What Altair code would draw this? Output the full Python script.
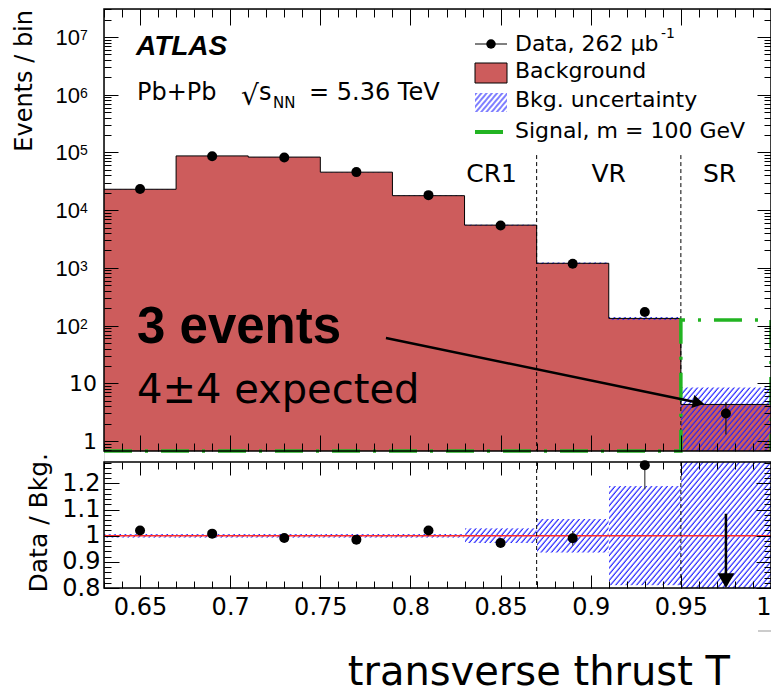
import altair as alt
import pandas as pd
from urllib.parse import quote

# ---------------- data ----------------
bin_lo = [0.63, 0.67, 0.71, 0.75, 0.79, 0.83, 0.87, 0.91, 0.95]
bin_hi = [0.67, 0.71, 0.75, 0.79, 0.83, 0.87, 0.91, 0.95, 1.00]
bin_center = [0.65, 0.69, 0.73, 0.77, 0.81, 0.85, 0.89, 0.93, 0.975]
background = [23000, 87000, 83000, 45500, 17800, 5500, 1200, 133, 4.3]
bkg_unc_up = [23300, 88000, 84000, 46100, 18100, 5650, 1250, 143, 8.5]
bkg_unc_dn = [22700, 86000, 82000, 44900, 17500, 5350, 1150, 124, 0.1]
signal_m100 = [0.05, 0.05, 0.05, 0.05, 0.05, 0.05, 0.05, 0.05, 125]
data_events = [23300, 85900, 81500, 45600, 18200, 5400, 1180, 172, 3]
data_err_dn = [23150, 85600, 81200, 45400, 18070, 5330, 1150, 159, 1.3]
data_err_up = [23450, 86200, 81800, 45800, 18330, 5470, 1210, 185, 4.7]
ratio_value = [1.02, 1.008, 0.991, 0.985, 1.02, 0.972, 0.99, 1.27, 0.70]
ratio_err_dn = [1.01, 1.005, 0.988, 0.980, 1.01, 0.960, 0.962, 1.178, 0.40]
ratio_err_up = [1.03, 1.011, 0.994, 0.990, 1.03, 0.984, 1.018, 1.36, 1.084]
ratio_unc_dn = [0.992, 0.992, 0.992, 0.992, 0.992, 0.972, 0.935, 0.81, 0.02]
ratio_unc_up = [1.008, 1.008, 1.008, 1.008, 1.008, 1.029, 1.065, 1.19, 1.98]

region_names = ["CR1", "VR", "SR"]
region_label_x = [0.845, 0.91, 0.9715]
region_bounds = [0.87, 0.95]
region_line_top = [9e4, 9e4]

arrow_x = [0.7864, 0.9598]
arrow_y = [61, 4.6]

x_major = [0.65, 0.7, 0.75, 0.8, 0.85, 0.9, 0.95, 1.0]
x_minor = [round(0.63 + 0.01 * i, 2) for i in range(38)]
y_top_major = [1, 10, 100, 1000, 10000, 100000, 1000000, 10000000]
y_top_base = ["1", "10", "10", "10", "10", "10", "10", "10"]
y_top_exp = ["", "", "2", "3", "4", "5", "6", "7"]
y_top_minor = [k * 10 ** e for e in range(-1, 8) for k in range(2, 10)
               if 0.671 <= k * 10 ** e <= 3.05e7]
y_rat_major = [0.8, 0.9, 1.0, 1.1, 1.2]
y_rat_minor = [round(0.8 + 0.02 * i, 2) for i in range(25)]

# ---------------- style / layout ----------------
FONT = "DejaVu Sans"
HFONT = "Liberation Sans"
RED = "#cd5c5c"
GREEN = "#22b422"
BLUE = "#2020ff"
W = 667                 # plot width
TOP_H = 442             # main panel: 0 .. 442
R_TOP, R_BOT = 453, 579  # ratio panel rows
H = R_BOT

hatch_svg = ("<svg xmlns='http://www.w3.org/2000/svg' width='100%' height='100%'>"
             "<defs><pattern id='h' patternUnits='userSpaceOnUse' width='4' height='10' "
             "patternTransform='rotate(40)'>"
             "<line x1='1' y1='-1' x2='1' y2='11' stroke='" + BLUE + "' stroke-width='1.15'/>"
             "</pattern></defs><rect width='100%' height='100%' fill='url(#h)'/></svg>")
HATCH = "data:image/svg+xml;charset=utf-8," + quote(hatch_svg)

bins = pd.DataFrame(dict(lo=bin_lo, hi=bin_hi, c=bin_center, bkg=background,
                         up=bkg_unc_up, dn=bkg_unc_dn, rdn=ratio_unc_dn,
                         rup=ratio_unc_up, u=[HATCH] * len(bin_lo)))
pts = pd.DataFrame(dict(c=bin_center, n=data_events, edn=data_err_dn, eup=data_err_up,
                        r=ratio_value, rdn=ratio_err_dn, rup=ratio_err_up))
bkg_step = pd.DataFrame(dict(x=bin_lo + [bin_hi[-1]],
                             v=background + [background[-1]],
                             o=list(range(len(bin_lo) + 1))))
sig_step = pd.DataFrame(dict(x=bin_lo + [bin_hi[-1], bin_hi[-1]],
                             v=signal_m100 + [signal_m100[-1], signal_m100[0]],
                             o=list(range(len(bin_lo) + 2))))
regions = pd.DataFrame(dict(b=region_bounds, t=region_line_top))
rlabels = pd.DataFrame(dict(x=region_label_x, name=region_names))
ann = pd.DataFrame(dict(x1=[arrow_x[0]], x2=[arrow_x[1]], y1=[arrow_y[0]], y2=[arrow_y[1]]))
ylab = pd.DataFrame(dict(v=y_top_major, base=y_top_base, sup=y_top_exp))
one = pd.DataFrame(dict(k=[0], u=[HATCH]))

xs = alt.Scale(domain=[0.63, 1.0], nice=False, zero=False)
ys = alt.Scale(type="log", domain=[0.671, 3.055e7], range=[TOP_H, 0], nice=False, clamp=True)
yr = alt.Scale(domain=[0.8, 1.282], range=[R_BOT, R_TOP], nice=False, zero=False, clamp=True)


def X(f):
    return alt.X(f, scale=xs, axis=None)


def Yt(f):
    return alt.Y(f, scale=ys, axis=None)


def Yr(f):
    return alt.Y(f, scale=yr, axis=None)


def txt(s, x, y, size, font=FONT, weight="normal", style="normal", align="left",
        angle=0, color="black"):
    return alt.Chart(one).mark_text(
        text=s, font=font, fontSize=size, fontWeight=weight, fontStyle=style,
        align=align, baseline="alphabetic", angle=angle, color=color
    ).encode(x=alt.value(x), y=alt.value(y))


def tick_axis(orient, values, size, shift=0, labels=False, pad=0, flush=False):
    kw = dict(orient=orient, values=values, tickSize=size, offset=-(size + shift),
              domain=False, grid=False, labels=labels, ticks=True, tickColor="black",
              tickWidth=1, title=None, zindex=1)
    if labels:
        kw.update(labelFont=FONT, labelFontSize=24, labelColor="black", labelPadding=pad,
                  labelFlush=flush, labelOverlap=False, format="~g")
    return alt.Axis(**kw)


def axis_layer(yscale, ypt, xa, ya):
    df = pd.DataFrame(dict(x=[0.8], y=[ypt]))
    return alt.Chart(df).mark_point(opacity=0).encode(
        x=alt.X("x:Q", scale=xs, axis=xa),
        y=alt.Y("y:Q", scale=yscale, axis=ya))


gap_shift = R_BOT - TOP_H  # distance from chart bottom to main-panel bottom

layers = [
    # ---------- main panel ----------
    alt.Chart(bkg_step).mark_area(interpolate="step-after", color=RED, opacity=1).encode(
        x=X("x:Q"), y=Yt("v:Q"), y2=alt.value(TOP_H)),
    alt.Chart(bins).mark_image(aspect=False).encode(
        x=X("lo:Q"), x2="hi:Q", y=Yt("up:Q"), y2="dn:Q", url="u:N"),
    alt.Chart(bkg_step).mark_line(interpolate="step-after", color="black", strokeWidth=1).encode(
        x=X("x:Q"), y=Yt("v:Q"), order="o:Q"),
    alt.Chart(regions).mark_rule(color="black", strokeWidth=1, strokeDash=[4, 3]).encode(
        x=X("b:Q"), y=Yt("t:Q"), y2=alt.value(TOP_H)),
    alt.Chart(sig_step).mark_line(interpolate="step-after", color=GREEN, strokeWidth=3.5,
                                  strokeDash=[28, 13, 3, 13]).encode(
        x=X("x:Q"), y=Yt("v:Q"), order="o:Q"),
    alt.Chart(pts).mark_rule(color="black", strokeWidth=1).encode(
        x=X("c:Q"), y=Yt("edn:Q"), y2="eup:Q"),
    alt.Chart(pts).mark_circle(size=100, color="black", opacity=1).encode(
        x=X("c:Q"), y=Yt("n:Q")),
    alt.Chart(ann).mark_rule(color="black", strokeWidth=2.5).encode(
        x=X("x1:Q"), x2="x2:Q", y=Yt("y1:Q"), y2="y2:Q"),
    alt.Chart(ann).mark_point(shape="triangle-right", filled=True, size=180, angle=12,
                              color="black", opacity=1).encode(
        x=X("x2:Q"), y=Yt("y2:Q")),
    alt.Chart(rlabels).mark_text(font=FONT, fontSize=25, align="center",
                                 baseline="alphabetic", color="black").encode(
        x=X("x:Q"), y=alt.value(173), text="name:N"),
    alt.Chart(ylab).transform_filter("datum.sup == ''").mark_text(
        font=FONT, fontSize=22, align="right", baseline="alphabetic", dy=8, color="black").encode(
        x=alt.value(-7), y=Yt("v:Q"), text="base:N"),
    alt.Chart(ylab).transform_filter("datum.sup != ''").mark_text(
        font=HFONT, fontSize=22, align="right", baseline="alphabetic", dy=8, color="black").encode(
        x=alt.value(-24), y=Yt("v:Q"), text="base:N"),
    alt.Chart(ylab).transform_filter("datum.sup != ''").mark_text(
        font=HFONT, fontSize=14, align="left", baseline="alphabetic", dy=3, color="black").encode(
        x=alt.value(-24), y=Yt("v:Q"), text="sup:N"),
    txt("Events / bin", -72, 1, 24, align="right", angle=270),
    txt("ATLAS", 32, 46, 28, font=HFONT, weight="bold", style="italic"),
    txt("Pb+Pb", 33, 91, 24),
    txt("\u221a", 137, 96, 28),
    txt("s", 155, 91, 24),
    txt("NN", 169, 99, 15),
    txt("= 5.36 TeV", 205, 91, 24),
    txt("3 events", 33, 334, 51, font=HFONT, weight="bold"),
    txt("4\u00b14 expected", 33, 394, 40),
    # legend
    alt.Chart(one).mark_rule(color="black", strokeWidth=1).encode(
        x=alt.value(371), x2=alt.value(403), y=alt.value(35)),
    alt.Chart(one).mark_circle(size=90, color="black", opacity=1).encode(
        x=alt.value(387), y=alt.value(35)),
    txt("Data, 262 \u03bcb", 411, 42, 22),
    txt("-1", 557, 29, 14),
    alt.Chart(one).mark_rect(color=RED, stroke="black", strokeWidth=1).encode(
        x=alt.value(371), x2=alt.value(403), y=alt.value(54), y2=alt.value(74)),
    txt("Background", 411, 69, 22),
    alt.Chart(one).mark_image(aspect=False).encode(
        x=alt.value(371), x2=alt.value(403), y=alt.value(84), y2=alt.value(103), url="u:N"),
    txt("Bkg. uncertainty", 411, 98, 22),
    alt.Chart(one).mark_rule(color=GREEN, strokeWidth=4).encode(
        x=alt.value(371), x2=alt.value(399), y=alt.value(123)),
    txt("Signal, m = 100 GeV", 411, 129, 22),
    # ---------- ratio panel ----------
    alt.Chart(bins).mark_image(aspect=False).encode(
        x=X("lo:Q"), x2="hi:Q", y=Yr("rup:Q"), y2="rdn:Q", url="u:N"),
    alt.Chart(pd.DataFrame(dict(one=[1.0]))).mark_rule(color="#ff2a2a", strokeWidth=1.5).encode(
        x=alt.value(0), x2=alt.value(W), y=Yr("one:Q")),
    alt.Chart(regions).mark_rule(color="black", strokeWidth=1, strokeDash=[4, 3]).encode(
        x=X("b:Q"), y=alt.value(R_TOP), y2=alt.value(R_BOT)),
    alt.Chart(pts).transform_filter("datum.r >= 0.8").mark_rule(
        color="#444444", strokeWidth=1.2).encode(x=X("c:Q"), y=Yr("rdn:Q"), y2="rup:Q"),
    alt.Chart(pts).transform_filter("datum.r >= 0.8").mark_circle(
        size=100, color="black", opacity=1).encode(x=X("c:Q"), y=Yr("r:Q")),
    alt.Chart(pts).transform_filter("datum.r < 0.8").mark_rule(
        color="black", strokeWidth=2.5).encode(x=X("c:Q"), y=Yr("rup:Q"), y2=alt.value(R_BOT - 12)),
    alt.Chart(pts).transform_filter("datum.r < 0.8").mark_point(
        shape="triangle-down", filled=True, size=289, color="black", opacity=1).encode(
        x=X("c:Q"), y=alt.value(R_BOT - 7.4)),
    txt("Data / Bkg.", -57, R_TOP - 9, 25, align="right", angle=270),
    txt("transverse thrust T", 626, 676, 40, align="right"),
    alt.Chart(one).mark_rule(color="#999999", strokeWidth=1).encode(
        x=alt.value(654), x2=alt.value(W), y=alt.value(622)),
    # ---------- frames ----------
    alt.Chart(one).mark_rect(fillOpacity=0, stroke="black", strokeWidth=1.5).encode(
        x=alt.value(0), x2=alt.value(W), y=alt.value(0), y2=alt.value(TOP_H)),
    alt.Chart(one).mark_rect(fillOpacity=0, stroke="black", strokeWidth=1.5).encode(
        x=alt.value(0), x2=alt.value(W), y=alt.value(R_TOP), y2=alt.value(R_BOT)),
    # ---------- tick axes ----------
    axis_layer(ys, 10, tick_axis("bottom", x_major, 16, shift=gap_shift),
               tick_axis("left", y_top_major, 14)),
    axis_layer(ys, 10, tick_axis("bottom", x_minor, 8, shift=gap_shift),
               tick_axis("left", y_top_minor, 7)),
    axis_layer(ys, 10, tick_axis("top", x_major, 16), tick_axis("right", y_top_major, 14)),
    axis_layer(ys, 10, tick_axis("top", x_minor, 8), tick_axis("right", y_top_minor, 7)),
    axis_layer(yr, 1.0, tick_axis("bottom", x_major, 13, labels=True, pad=7, flush=True),
               tick_axis("left", y_rat_major, 15, labels=True, pad=4)),
    axis_layer(yr, 1.0, tick_axis("bottom", x_minor, 7), tick_axis("left", y_rat_minor, 7)),
    axis_layer(yr, 1.0, tick_axis("top", x_major, 13, shift=R_TOP),
               tick_axis("right", y_rat_major, 15)),
    axis_layer(yr, 1.0, tick_axis("top", x_minor, 7, shift=R_TOP),
               tick_axis("right", y_rat_minor, 7)),
]

chart = alt.layer(*layers).resolve_scale(y="independent").resolve_axis(
    x="independent", y="independent"
).properties(
    width=W, height=H,
    autosize=alt.AutoSizeParams(type="none"),
    padding={"left": 96, "top": 1, "right": 0, "bottom": 106},
).configure_view(stroke="transparent").configure(font=FONT)

chart.save("out.html", embed_options={"renderer": "svg", "actions": False})
